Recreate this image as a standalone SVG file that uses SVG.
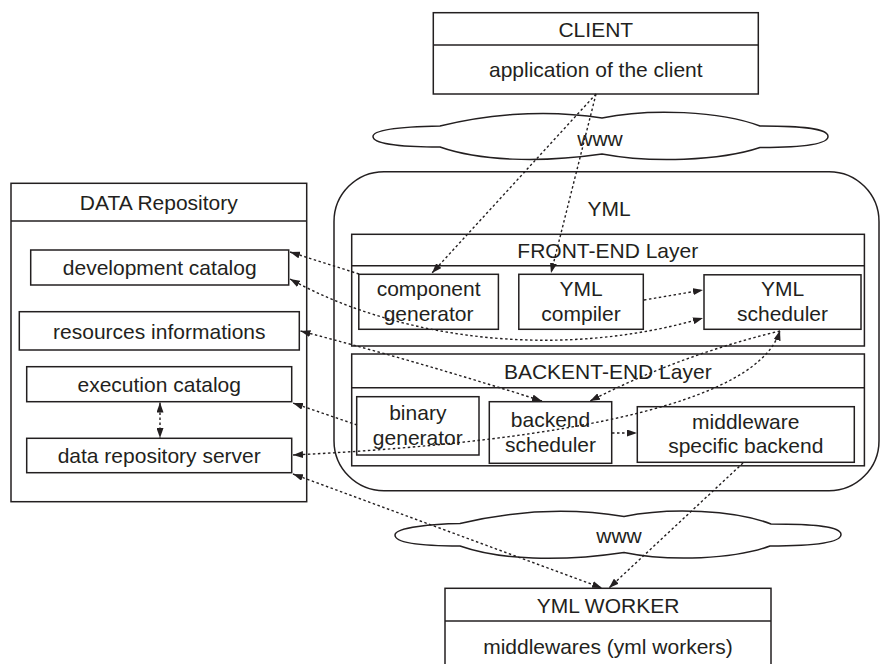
<svg xmlns="http://www.w3.org/2000/svg" width="880" height="664" viewBox="0 0 880 664">
<defs>
<marker id="ah" viewBox="0 0 10 7" refX="10" refY="3.5" markerWidth="10" markerHeight="7" markerUnits="userSpaceOnUse" orient="auto-start-reverse">
<path d="M0,0 L10,3.5 L0,7 z" fill="#231f20"/>
</marker>
</defs>
<style>
.box{fill:#fff;stroke:#231f20;stroke-width:1.5}
.ln{fill:none;stroke:#231f20;stroke-width:1.5}
.t{font-family:"Liberation Sans",Arial,Helvetica,sans-serif;font-size:21px;fill:#231f20;text-anchor:middle}
.c{fill:none;stroke:#231f20;stroke-width:1.4;stroke-dasharray:2.5 2.5}
</style>
<rect width="880" height="664" fill="#fff"/>

<g id="cloud-top">
<path class="box" d="M 373 136.5 C 373 128, 415 126.5, 440 126 C 480 116, 540 108, 602 118 C 650 108, 720 111, 760 126 C 800 126, 828 128, 828 136.5 C 828 145, 800 147.5, 760 147.5 C 720 161, 650 163, 602 154 C 540 163, 480 161, 440 147 C 410 147, 373 145, 373 136.5 Z"/>
<text class="t" x="600" y="146">www</text>
</g>

<g id="cloud-bottom">
<path class="box" d="M 395 535 C 395 527, 435 524, 460 523.5 C 500 514, 560 506, 624 516.5 C 670 507, 735 510, 771 524 C 810 524, 841 526, 841 534.5 C 841 543, 810 546, 770 546 C 735 559, 670 562, 624 552.5 C 560 562, 500 560, 460 546 C 430 546, 395 544, 395 535 Z"/>
<text class="t" x="619" y="543">www</text>
</g>

<g id="client">
<rect class="box" x="433.3" y="12.7" width="325" height="81.3"/>
<line class="ln" x1="433.3" y1="45" x2="758.3" y2="45"/>
<text class="t" x="595.8" y="36.5">CLIENT</text>
<text class="t" x="595.8" y="77">application of the client</text>
</g>

<g id="data-repository">
<rect class="box" x="11" y="183.3" width="295.7" height="318.4"/>
<line class="ln" x1="11" y1="221" x2="306.7" y2="221"/>
<text class="t" x="158.8" y="209.5">DATA Repository</text>
</g>
<g id="development-catalog">
<rect class="box" x="30.7" y="250" width="258" height="35"/>
<text class="t" x="159.7" y="275">development catalog</text>
</g>
<g id="resources-informations">
<rect class="box" x="19.3" y="311.7" width="280" height="38.3"/>
<text class="t" x="159.3" y="338.5">resources informations</text>
</g>
<g id="execution-catalog">
<rect class="box" x="26.7" y="366.7" width="265" height="35"/>
<text class="t" x="159.2" y="391.5">execution catalog</text>
</g>
<g id="data-repository-server">
<rect class="box" x="26.7" y="438.3" width="265" height="34.4"/>
<text class="t" x="159.2" y="463">data repository server</text>
</g>

<g id="yml">
<rect class="box" x="334" y="171.7" width="545" height="319" rx="50" ry="50"/>
<text class="t" x="609" y="215.5">YML</text>
</g>
<g id="front-end-layer">
<rect class="box" x="351.7" y="234.3" width="512.7" height="111.7"/>
<line class="ln" x1="351.7" y1="265.7" x2="864.4" y2="265.7"/>
<text class="t" x="607.8" y="257.5">FRONT-END Layer</text>
</g>
<g id="component-generator">
<rect class="box" x="358.8" y="274.3" width="139.6" height="55"/>
<text class="t" x="428.6" y="296">component</text>
<text class="t" x="428.6" y="321">generator</text>
</g>
<g id="yml-compiler">
<rect class="box" x="518.8" y="274.3" width="124.5" height="55"/>
<text class="t" x="581" y="296">YML</text>
<text class="t" x="581" y="321">compiler</text>
</g>
<g id="yml-scheduler">
<rect class="box" x="704" y="274.8" width="157" height="54.5"/>
<text class="t" x="782.5" y="296">YML</text>
<text class="t" x="782.5" y="321">scheduler</text>
</g>
<g id="backend-layer">
<rect class="box" x="351.7" y="354" width="512.7" height="111.8"/>
<line class="ln" x1="351.7" y1="387.7" x2="864.4" y2="387.7"/>
<text class="t" x="607.8" y="378.5">BACKENT-END Layer</text>
</g>
<g id="binary-generator">
<rect class="box" x="356.7" y="396.7" width="122.3" height="58.3"/>
<text class="t" x="417.8" y="420">binary</text>
<text class="t" x="417.8" y="445">generator</text>
</g>
<g id="backend-scheduler">
<rect class="box" x="489.3" y="401.7" width="122.4" height="61.6"/>
<text class="t" x="550.5" y="427">backend</text>
<text class="t" x="550.5" y="452">scheduler</text>
</g>
<g id="middleware-specific-backend">
<rect class="box" x="637.3" y="406.7" width="217" height="55.6"/>
<text class="t" x="745.8" y="429">middleware</text>
<text class="t" x="745.8" y="453">specific backend</text>
</g>

<g id="yml-worker">
<rect class="box" x="445" y="588.3" width="326" height="90"/>
<line class="ln" x1="445" y1="621" x2="771" y2="621"/>
<text class="t" x="608" y="612.5">YML WORKER</text>
<text class="t" x="608" y="654">middlewares (yml workers)</text>
</g>

<g id="connectors">
<path class="c" d="M 596 94 L 432 273" marker-end="url(#ah)"/>
<path class="c" d="M 596 94 L 551 273" marker-end="url(#ah)"/>
<path class="c" d="M 359 274 L 290 252" marker-end="url(#ah)"/>
<path class="c" d="M 290 279 C 400 340, 560 360, 703 318" marker-start="url(#ah)" marker-end="url(#ah)"/>
<path class="c" d="M 300.5 331 Q 420 362 542 401" marker-start="url(#ah)" marker-end="url(#ah)"/>
<path class="c" d="M 644 300 L 703 290" marker-end="url(#ah)"/>
<path class="c" d="M 780 331 Q 680 355 590 401" marker-end="url(#ah)"/>
<path class="c" d="M 293 455 C 500 445, 755 415, 780 330.5" marker-start="url(#ah)" marker-end="url(#ah)"/>
<path class="c" d="M 357 425 L 293 403" marker-end="url(#ah)"/>
<path class="c" d="M 612 433 L 637 433" marker-end="url(#ah)"/>
<path class="c" d="M 743 463 L 609 588" marker-end="url(#ah)"/>
<path class="c" d="M 293 474 L 602 588" marker-start="url(#ah)" marker-end="url(#ah)"/>
<path class="c" d="M 160 402.5 L 160 438" marker-start="url(#ah)" marker-end="url(#ah)"/>
</g>
</svg>
